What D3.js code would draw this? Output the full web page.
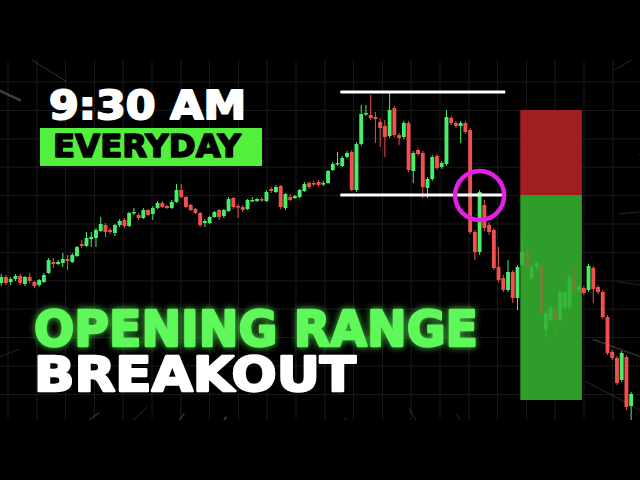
<!DOCTYPE html>
<html><head><meta charset="utf-8">
<script src="https://cdn.jsdelivr.net/npm/d3@7"></script>
<style>html,body{margin:0;padding:0;background:#000;}svg{display:block;}</style>
</head><body>
<svg id="c" width="640" height="480"></svg>
<script>
// ---- data (price units) ----
const opens  = [137,143,138,141,144,136,143,138,135,138,147,158,156,157,161,158,164,176,174,181,182,189,195,190,187,195,200,194,207,205,202,210,206,212,217,214,212,218,230,223,215,211,207,197,197,203,210,204,209,222,214,213,211,219,219,221,219,231,228,234,212,223,222,223,229,237,237,238,236,237,250,256,254,263,268,230,276,306,305,303,298,294,284,312,285,283,297,249,270,267,232,241,264,253,256,302,297,294,297,290,188,168,215,195,190,153,142,130,148,122,155,168,142,153,155,90,100,110,100,112,113,140,130,132,130,152,133,128,103,68,62,40,63,14];
const closes = [143,137,141,144,137,143,139,134,140,145,160,156,158,161,159,165,173,174,182,183,190,196,188,188,195,199,194,207,208,202,210,205,212,217,213,212,218,230,223,213,210,207,195,199,203,208,203,210,221,213,213,210,220,220,221,220,228,229,233,213,226,220,224,230,236,233,236,235,237,249,256,257,262,267,230,276,306,307,302,301,292,283,310,285,282,297,250,267,266,233,241,263,252,257,303,297,294,297,288,188,168,228,192,188,152,140,130,148,122,153,168,152,153,157,107,107,112,100,128,128,143,130,133,127,154,131,128,103,67,62,37,67,13,26];
const highs  = [146,145,143,146,146,144,147,139,141,147,162,162,160,167,165,167,174,180,188,188,192,203,197,192,196,201,202,208,212,207,212,211,214,219,219,215,220,236,236,224,216,212,208,201,204,209,211,211,223,223,216,215,221,223,222,223,230,233,235,235,227,226,225,231,238,239,239,240,239,250,258,268,264,269,270,278,315,315,325,308,302,300,327,314,287,299,299,269,272,269,243,265,266,259,310,304,299,299,299,292,190,230,220,198,192,173,145,160,150,155,182,170,156,159,157,109,114,112,130,130,145,152,135,134,156,154,135,130,105,70,64,69,65,28];
const lows   = [134,135,135,139,135,134,137,132,133,137,146,152,155,153,150,157,163,172,173,173,173,188,183,186,184,193,192,193,205,200,201,204,200,211,212,211,211,217,222,212,209,206,193,193,196,202,200,202,208,211,202,208,210,218,218,218,218,227,227,211,210,219,221,222,228,231,234,233,234,236,249,254,253,262,229,228,274,304,300,277,273,263,282,283,275,281,248,237,264,222,222,239,250,251,254,295,292,277,286,186,160,165,189,185,150,138,128,128,117,110,153,150,140,151,105,83,98,82,98,110,111,128,128,125,128,117,126,101,65,60,35,38,10,0];

const rangeStart = 72, rangeEnd = 106;     // opening range window (candle index)
const rangeHigh = 328, rangeLow = 225;     // opening range levels
const breakoutIndex = 101;                 // breakout candle
const tradeStart = 110, tradeEnd = 122;    // trade box window
const stopLevel = 310, entryLevel = 225, targetLevel = 20;

const title1 = "9:30 AM", badge = "EVERYDAY", title2 = "OPENING RANGE", title3 = "BREAKOUT";

// ---- setup ----
const W = 640, H = 480, bandTop = 60, bandBottom = 420;
const svg = d3.select("#c");
const n = opens.length;
const candles = d3.range(n).map(i => ({i, o: opens[i], c: closes[i], h: highs[i], l: lows[i]}));
const x = d3.scaleBand().domain(d3.range(n)).range([-0.7, -0.7 + n * 4.73]).paddingInner(0.18);
const y = d3.scaleLinear().domain([0, 360]).range([bandBottom, bandTop]);
const GREEN = "#46ef67", RED = "#f0514f";

svg.append("rect").attr("width", W).attr("height", H).attr("fill", "#000");

const defs = svg.append("defs");
defs.append("clipPath").attr("id", "band").append("rect")
  .attr("x", 0).attr("y", bandTop).attr("width", W).attr("height", bandBottom - bandTop);
const glow = defs.append("filter").attr("id", "glow").attr("x", "-10%").attr("y", "-30%").attr("width", "120%").attr("height", "160%");
glow.append("feGaussianBlur").attr("in", "SourceGraphic").attr("stdDeviation", 3.5).attr("result", "b");
glow.append("feComponentTransfer").attr("in", "b").attr("result", "b2")
  .append("feFuncA").attr("type", "linear").attr("slope", 0.8);
const fm = glow.append("feMerge");
fm.append("feMergeNode").attr("in", "b2");
fm.append("feMergeNode").attr("in", "SourceGraphic");

// ---- background grid & speed lines ----
const bg = svg.append("g").attr("clip-path", "url(#band)");
const gx = d3.range(0, 23).map(k => 8 + 28.8 * k);
const gy = d3.range(0, 13).map(k => 82 + 28.4 * k);
bg.selectAll(".gv").data(gx).join("line").attr("x1", d => d).attr("x2", d => d).attr("y1", bandTop).attr("y2", bandBottom)
  .attr("stroke", "#1b1b1b").attr("stroke-width", 1);
bg.selectAll(".gh").data(gy).join("line").attr("x1", 0).attr("x2", W).attr("y1", d => d).attr("y2", d => d)
  .attr("stroke", "#1b1b1b").attr("stroke-width", 1);
const rays = [
  [205, 330, 520, 2.5, .45], [212, 300, 480, 1, .35], [220, 330, 460, 1, .3], [230, 300, 520, 1.5, .3],
  [160, 320, 480, 1, .25], [168, 330, 480, 1.5, .3], [150, 360, 480, 1, .25],
  [245, 230, 420, 1, .3], [252, 200, 300, 1, .3], [262, 190, 300, 1.5, .4], [272, 180, 300, 1, .3], [285, 190, 300, 2, .35],
  [300, 230, 420, 1.5, .3], [315, 300, 480, 2, .35], [322, 320, 480, 1, .3],
  [330, 340, 480, 1, .3], [345, 330, 480, 1, .3], [355, 300, 420, 1, .3], [8, 300, 420, 1, .25],
  [20, 290, 400, 1.5, .35], [28, 300, 420, 1, .3], [40, 280, 400, 2, .35], [52, 220, 320, 1, .3],
  [62, 190, 300, 1, .3], [72, 190, 300, 1.5, .3], [82, 180, 300, 1, .35], [95, 190, 300, 1.5, .35],
  [108, 190, 300, 1, .3], [118, 200, 300, 2, .4], [128, 220, 300, 1.5, .35], [136, 240, 300, 1, .3], [142, 280, 420, 1.5, .3]
];
bg.selectAll(".ray").data(rays).join("line")
  .attr("x1", d => 320 + d[1] * Math.cos(d[0] * Math.PI / 180))
  .attr("y1", d => 240 + d[1] * Math.sin(d[0] * Math.PI / 180))
  .attr("x2", d => 320 + d[2] * Math.cos(d[0] * Math.PI / 180))
  .attr("y2", d => 240 + d[2] * Math.sin(d[0] * Math.PI / 180))
  .attr("stroke", "#8a8a8a").attr("stroke-width", d => d[3]).attr("opacity", d => d[4]);

// ---- candles ----
function drawCandles(g, data) {
  g.selectAll(".w").data(data).join("line")
    .attr("x1", d => x(d.i) + x.bandwidth() / 2).attr("x2", d => x(d.i) + x.bandwidth() / 2)
    .attr("y1", d => y(d.h)).attr("y2", d => y(d.l))
    .attr("stroke", d => d.c >= d.o ? GREEN : RED).attr("stroke-width", 1);
  g.selectAll(".b").data(data).join("rect")
    .attr("x", d => x(d.i)).attr("width", x.bandwidth())
    .attr("y", d => y(Math.max(d.o, d.c))).attr("height", d => Math.max(1.5, Math.abs(y(d.o) - y(d.c))))
    .attr("fill", d => d.c >= d.o ? GREEN : RED);
}
drawCandles(svg.append("g").attr("clip-path", "url(#band)"), candles);

// ---- trade box ----
const bx0 = x(tradeStart), bx1 = x(tradeEnd) + x.step();
svg.append("rect").attr("x", bx0).attr("width", bx1 - bx0).attr("y", y(stopLevel)).attr("height", y(entryLevel) - y(stopLevel)).attr("fill", "#a01e1f");
svg.append("rect").attr("x", bx0).attr("width", bx1 - bx0).attr("y", y(entryLevel)).attr("height", y(targetLevel) - y(entryLevel)).attr("fill", "#2f9d29");
defs.append("clipPath").attr("id", "box").append("rect").attr("x", bx0).attr("width", bx1 - bx0).attr("y", y(stopLevel)).attr("height", y(targetLevel) - y(stopLevel));
drawCandles(svg.append("g").attr("clip-path", "url(#box)").attr("opacity", 0.33), candles.filter(d => d.i >= tradeStart - 1 && d.i <= tradeEnd + 1));

// ---- opening range lines ----
const lx0 = x(rangeStart), lx1 = x(rangeEnd) + x.bandwidth();
[rangeHigh, rangeLow].forEach(v => {
  svg.append("line").attr("x1", lx0).attr("x2", lx1).attr("y1", y(v)).attr("y2", y(v))
    .attr("stroke", "#fff").attr("stroke-width", 3);
});

// ---- breakout circle ----
svg.append("circle").attr("cx", x(breakoutIndex) + x.bandwidth() / 2).attr("cy", y(rangeLow) + 0.5).attr("r", 24.5)
  .attr("fill", "none").attr("stroke", "#e61ee6").attr("stroke-width", 4.5);

// ---- titles ----
const font = "'DejaVu Sans', sans-serif";
function heavy(t, col, sw) {
  return t.attr("font-family", font).attr("font-weight", "bold").attr("fill", col)
    .attr("stroke", col).attr("stroke-width", sw).attr("stroke-linejoin", "round")
    .attr("lengthAdjust", "spacingAndGlyphs");
}
heavy(svg.append("text").attr("x", 49).attr("y", 119).text(title1).attr("font-size", 39), "#fff", 2)
  .attr("textLength", 197);
svg.append("rect").attr("x", 40).attr("y", 128).attr("width", 222).attr("height", 38).attr("fill", "#52ef3c");
heavy(svg.append("text").attr("x", 53).attr("y", 157).text(badge).attr("font-size", 32), "#000", 1.6)
  .attr("textLength", 188);
heavy(svg.append("text").attr("x", 34).attr("y", 346).text(title2).attr("font-size", 50), "#5ff85a", 2.4)
  .attr("filter", "url(#glow)").attr("textLength", 444);
heavy(svg.append("text").attr("x", 34).attr("y", 391).text(title3).attr("font-size", 48), "#fff", 2.4)
  .attr("textLength", 322);
</script>
</body></html>
